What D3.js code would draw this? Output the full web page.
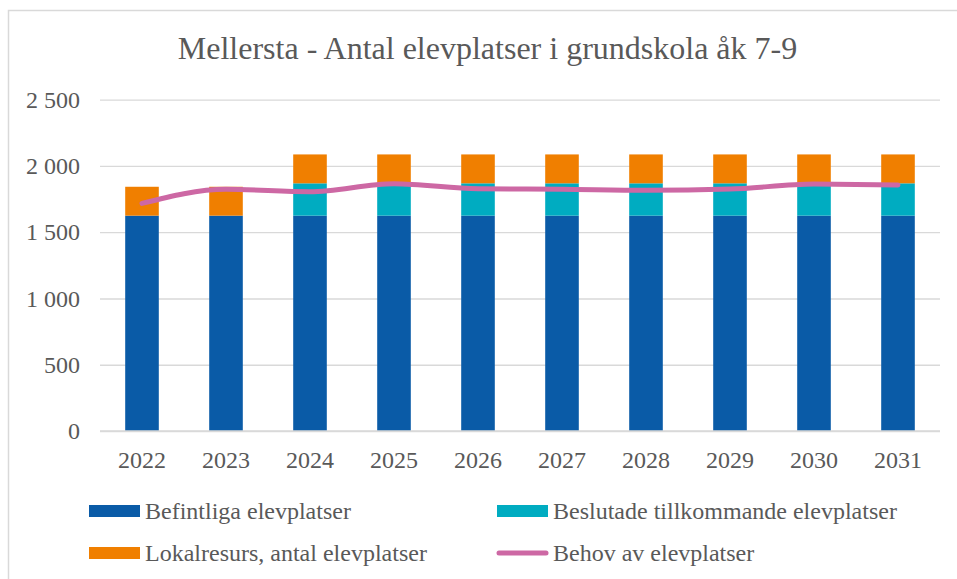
<!DOCTYPE html>
<html><head><meta charset="utf-8">
<script src="https://cdn.jsdelivr.net/npm/d3@7"></script>
<style>body{margin:0;background:#fff}svg{display:block}svg text{font-family:"Liberation Serif","Times New Roman",Times,serif !important}</style>
</head><body>
<script>
const years = ["2022","2023","2024","2025","2026","2027","2028","2029","2030","2031"];
const befintliga = [1625,1625,1625,1625,1625,1625,1625,1625,1625,1625];
const beslutade = [0,0,244,244,244,244,244,244,244,244];
const lokalresurs = [218,218,218,218,218,218,218,218,218,218];
const behov = [1718,1824,1806,1866,1828,1824,1817,1826,1863,1857];
const yTicks = [0,500,1000,1500,2000,2500];
const seriesNames = ["Befintliga elevplatser","Beslutade tillkommande elevplatser","Lokalresurs, antal elevplatser","Behov av elevplatser"];
const colors = ["#0A5BA7","#00ACC1","#F07F00","#CD68A4"];

const W=957,H=579;
const svg=d3.select("body").append("svg").attr("width",W).attr("height",H);
svg.append("rect").attr("x",8.5).attr("y",10.5).attr("width",960).attr("height",600)
  .attr("fill","#fff").attr("stroke","#d9d9d9").attr("stroke-width",1.5);

const x=d3.scaleBand().domain(years).range([100,940]).paddingInner(0.6).paddingOuter(0.3);
const y=d3.scaleLinear().domain([0,2500]).range([431,99.7]);

svg.append("text").attr("x",487.5).attr("y",59).attr("text-anchor","middle")
  .style("font-size","32px").attr("fill","#595959")
  .text("Mellersta - Antal elevplatser i grundskola åk 7-9");

const yAxis=d3.axisLeft(y).tickValues(yTicks).tickSize(-840).tickFormat(d=>d3.format(",")(d).replace(/,/g," "));
const gy=svg.append("g").attr("transform","translate(100,0)").call(yAxis);
gy.select(".domain").remove();
gy.selectAll(".tick line").attr("stroke","#d9d9d9").attr("stroke-width",1.3);
gy.selectAll(".tick text").attr("x",-20).attr("font-size",24).attr("fill","#595959");

const stack=years.map((yr,i)=>({yr,vals:[befintliga[i],beslutade[i],lokalresurs[i]]}));
[0,1,2].forEach(k=>{
  svg.append("g").selectAll("rect").data(stack).join("rect")
    .attr("x",d=>x(d.yr)).attr("width",x.bandwidth())
    .attr("y",d=>y(d3.sum(d.vals.slice(0,k+1))))
    .attr("height",d=>y(d3.sum(d.vals.slice(0,k)))-y(d3.sum(d.vals.slice(0,k+1))))
    .attr("fill",colors[k]);
});

const gx=svg.append("g").attr("transform","translate(0,431)").call(d3.axisBottom(x).tickSize(0).tickPadding(20));
gx.select(".domain").attr("stroke","#d9d9d9").attr("stroke-width",1.3).attr("d","M100,0H940");
gx.selectAll(".tick text").attr("font-size",24).attr("fill","#595959");

const line=d3.line().x((d,i)=>x(years[i])+x.bandwidth()/2).y(d=>y(d)).curve(d3.curveMonotoneX);
svg.append("path").datum(behov).attr("d",line).attr("fill","none").attr("stroke",colors[3])
  .attr("stroke-width",5).attr("stroke-linecap","round").attr("stroke-linejoin","round");

const leg=[{i:0,x:89,y:511},{i:1,x:497,y:511},{i:2,x:89,y:553},{i:3,x:497,y:553}];
leg.forEach(l=>{
  if(l.i<3){
    svg.append("rect").attr("x",l.x).attr("y",l.y-6).attr("width",51).attr("height",12).attr("fill",colors[l.i]);
  } else {
    svg.append("line").attr("x1",l.x+2).attr("x2",l.x+49).attr("y1",l.y).attr("y2",l.y)
      .attr("stroke",colors[3]).attr("stroke-width",5).attr("stroke-linecap","round");
  }
  svg.append("text").attr("x",l.x+56).attr("y",l.y+8).attr("font-size",24)
    .attr("fill","#595959").text(seriesNames[l.i]);
});
</script>
</body></html>
